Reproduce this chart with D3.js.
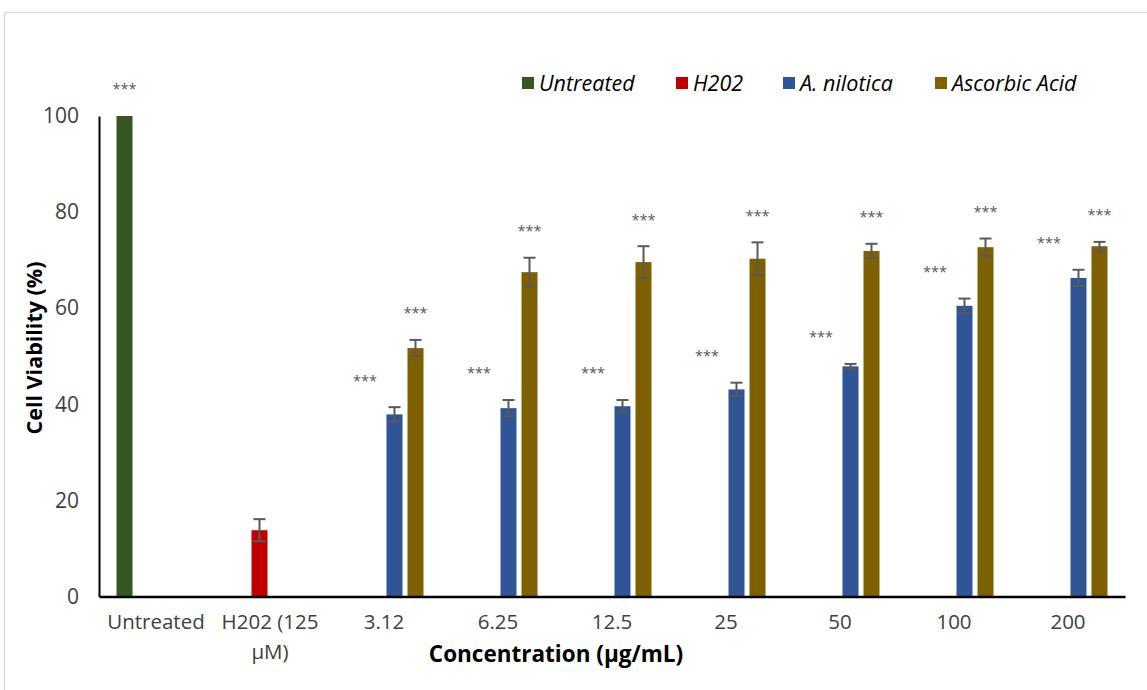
<!DOCTYPE html>
<html>
<head>
<meta charset="utf-8">
<script src="https://cdn.jsdelivr.net/npm/d3@7"></script>
<style>
  html, body { margin: 0; padding: 0; background: #fff; }
  svg { display: block; }
  text { font-family: "Open Sans", sans-serif; }
</style>
</head>
<body>
<svg id="chart" width="1147" height="690"></svg>
<script>
// Cell viability per treatment group (mean ± SD)
const categories = ["Untreated", "H202 (125 μM)", "3.12", "6.25", "12.5", "25", "50", "100", "200"];
const seriesNames = ["Untreated", "H202", "A. nilotica", "Ascorbic Acid"];
const seriesColors = ["#375623", "#C00000", "#2F5597", "#7F6000"];

const untreatedValues = [100, null, null, null, null, null, null, null, null];
const h2o2Values      = [null, 13.8, null, null, null, null, null, null, null];
const niloticaValues  = [null, null, 37.9, 39.2, 39.6, 43.1, 47.9, 60.5, 66.3];
const ascorbicValues  = [null, null, 51.7, 67.5, 69.6, 70.3, 71.9, 72.7, 72.9];

const untreatedErr = [0, null, null, null, null, null, null, null, null];
const h2o2Err      = [null, 2.3, null, null, null, null, null, null, null];
const niloticaErr  = [null, null, 1.5, 1.7, 1.3, 1.4, 0.5, 1.5, 1.7];
const ascorbicErr  = [null, null, 1.7, 3.0, 3.3, 3.4, 1.5, 1.8, 0.9];

// significance marks (p < 0.001)
const untreatedSig = ["***", "", "", "", "", "", "", "", ""];
const h2o2Sig      = ["", "", "", "", "", "", "", "", ""];
const niloticaSig  = ["", "", "***", "***", "***", "***", "***", "***", "***"];
const ascorbicSig  = ["", "", "***", "***", "***", "***", "***", "***", "***"];

const yTicks = [0, 20, 40, 60, 80, 100];

const valueSets = [untreatedValues, h2o2Values, niloticaValues, ascorbicValues];
const errSets = [untreatedErr, h2o2Err, niloticaErr, ascorbicErr];
const sigSets = [untreatedSig, h2o2Sig, niloticaSig, ascorbicSig];

const svg = d3.select("#chart");

// chart area frame
svg.append("rect")
  .attr("x", 4.5).attr("y", 12.5)
  .attr("width", 1160).attr("height", 700)
  .attr("fill", "none").attr("stroke", "#d9d9d9").attr("stroke-width", 1.5);

const plotLeft = 99, plotRight = 1125, plotTop = 116, plotBottom = 596.5;

const x0 = d3.scaleBand().domain(categories).range([plotLeft, plotRight])
  .paddingInner(0.307).paddingOuter(0.1535);
const x1 = d3.scaleBand().domain(seriesNames).range([0, x0.bandwidth()])
  .paddingInner(0.238).paddingOuter(0);
const y = d3.scaleLinear().domain([0, 100]).range([plotBottom, plotTop]);

// flatten into bar records
const bars = [];
seriesNames.forEach((s, si) => {
  categories.forEach((c, ci) => {
    const v = valueSets[si][ci];
    if (v == null) return;
    bars.push({ series: s, si, category: c, value: v, err: errSets[si][ci], sig: sigSets[si][ci] });
  });
});

const barCenter = d => x0(d.category) + x1(d.series) + x1.bandwidth() / 2;

const g = svg.append("g");

// bars
g.selectAll("rect.bar").data(bars).join("rect")
  .attr("class", "bar")
  .attr("x", d => x0(d.category) + x1(d.series))
  .attr("y", d => y(d.value))
  .attr("width", x1.bandwidth())
  .attr("height", d => y(0) - y(d.value))
  .attr("fill", d => seriesColors[d.si]);

// error bars
const capHalf = 6;
const errBars = bars.filter(d => d.err > 0);
const eg = g.selectAll("g.err").data(errBars).join("g").attr("class", "err")
  .attr("stroke", "#595959").attr("stroke-width", 2).attr("fill", "none");
eg.append("line")
  .attr("x1", barCenter).attr("x2", barCenter)
  .attr("y1", d => y(d.value + d.err))
  .attr("y2", d => y(d.value - d.err));
eg.append("line")
  .attr("x1", d => barCenter(d) - capHalf).attr("x2", d => barCenter(d) + capHalf)
  .attr("y1", d => y(d.value + d.err)).attr("y2", d => y(d.value + d.err));
eg.append("line")
  .attr("x1", d => barCenter(d) - capHalf).attr("x2", d => barCenter(d) + capHalf)
  .attr("y1", d => y(d.value - d.err)).attr("y2", d => y(d.value - d.err));

// significance stars: A. nilotica marks sit to the left of its bar
g.selectAll("text.sig").data(bars.filter(d => d.sig)).join("text")
  .attr("class", "sig")
  .attr("x", d => d.series === "A. nilotica" ? barCenter(d) - 1.4 * x1.step() : barCenter(d))
  .attr("y", d => y(d.value + d.err + 6))
  .attr("dy", "0.5em")
  .attr("text-anchor", "middle")
  .attr("font-family", "DejaVu Sans")
  .attr("font-size", 14.5)
  .attr("fill", "#595959")
  .text(d => d.sig);

// y axis
const yAxis = d3.axisLeft(y).tickValues(yTicks).tickSize(0).tickPadding(20);
const ya = svg.append("g").attr("transform", `translate(${plotLeft},0)`).call(yAxis);
ya.select(".domain").attr("stroke", "#000").attr("stroke-width", 2);
ya.selectAll(".tick text").attr("font-size", 21).attr("fill", "#404040")
  .attr("font-family", "Open Sans");

// x axis
const xAxis = d3.axisBottom(x0).tickSize(0).tickPadding(18);
const xa = svg.append("g").attr("transform", `translate(0,${plotBottom})`).call(xAxis);
xa.select(".domain").attr("stroke", "#000").attr("stroke-width", 2.5);
xa.selectAll(".tick text").attr("font-size", 20.5).attr("fill", "#404040")
  .attr("font-family", "Open Sans")
  .each(function(d) {
    const t = d3.select(this);
    const m = d.match(/^(.*) (\S*μ\S*)$/);
    if (m) {
      t.text(null);
      t.append("tspan").attr("x", 0).attr("dy", "0.71em").text(m[1]);
      t.append("tspan").attr("x", 0).attr("dy", "1.45em").text(m[2]);
    }
  });

// axis titles
svg.append("text")
  .attr("transform", `translate(42,348) rotate(-90)`)
  .attr("text-anchor", "middle")
  .attr("font-size", 21.5).attr("font-weight", "bold").attr("fill", "#000")
  .text("Cell Viability (%)");

svg.append("text")
  .attr("x", 556).attr("y", 662)
  .attr("text-anchor", "middle")
  .attr("font-size", 22.5).attr("font-weight", "bold").attr("fill", "#000")
  .text("Concentration (μg/mL)");

// legend
const legendX = [522, 676, 783, 935];
const lg = svg.append("g").selectAll("g").data(seriesNames).join("g")
  .attr("transform", (d, i) => `translate(${legendX[i]},0)`);
lg.append("rect").attr("x", 0).attr("y", 77).attr("width", 12).attr("height", 12)
  .attr("fill", (d, i) => seriesColors[i]);
lg.append("text").attr("x", 17).attr("y", 90.5)
  .attr("font-size", 21.5).attr("font-style", "italic").attr("fill", "#000")
  .text(d => d);
</script>
</body>
</html>
